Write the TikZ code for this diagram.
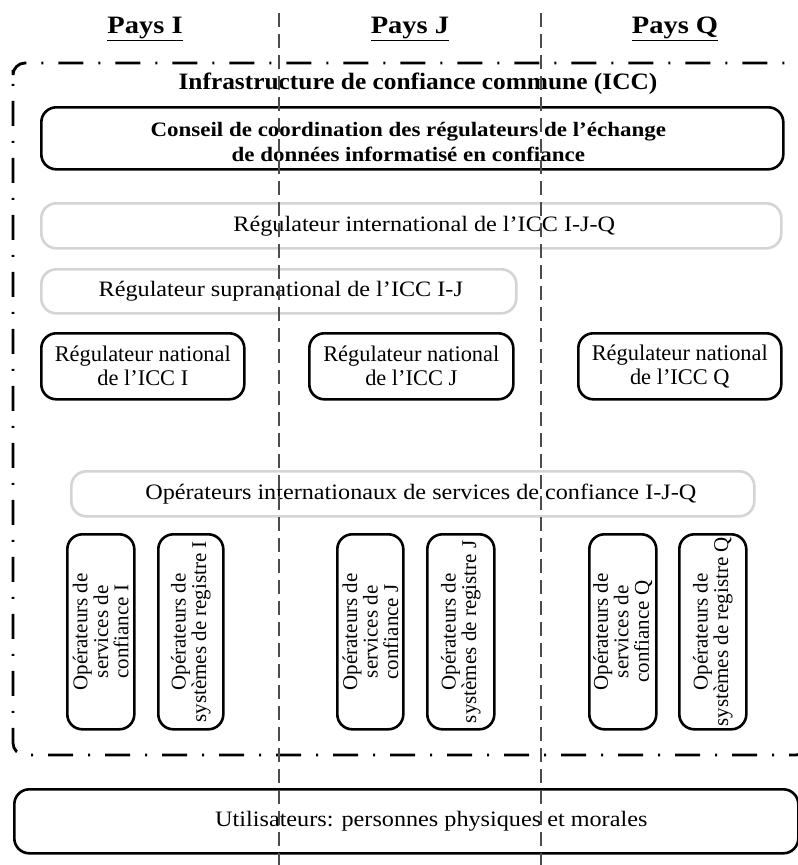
\documentclass[tikz,border=0pt]{standalone}
\usepackage{fontspec}
\setmainfont{Liberation Serif}
\newfontfamily\bw[FakeStretch=1.08]{Liberation Serif}
\newfontfamily\bwc[FakeStretch=1.12]{Liberation Serif}
\newfontfamily\bwp[FakeStretch=1.14]{Liberation Serif}
\newfontfamily\sw[FakeStretch=1.1]{Liberation Serif}
\begin{document}
\begin{tikzpicture}[x=1pt,y=-1pt,
  blk/.style={draw=black, line width=2.6pt, rounded corners=15pt, inner sep=0pt, anchor=north west},
  gry/.style={draw=black!17, line width=2.6pt, rounded corners=15pt, inner sep=0pt, anchor=north west},
  rtxt/.style={font=\fontsize{22.4}{24}\selectfont, align=center},
  stxt/.style={font=\sw\fontsize{22}{24}\selectfont, align=center},
  vtxt/.style={font=\fontsize{21}{20.5}\selectfont, align=center, rotate=90},
  btxt/.style={font=\bwc\bfseries\fontsize{20.5}{25}\selectfont, align=center},
  ttl/.style={font=\bw\bfseries\fontsize{23.5}{26}\selectfont},
  pays/.style={font=\bwp\bfseries\fontsize{25}{28}\selectfont},
  frame/.style={line width=2.8pt, rounded corners=12pt, dash pattern=on 25pt off 15pt on 2pt off 15pt},
  vline/.style={draw=black!70, line width=1.2pt, dash pattern=on 14pt off 7pt}]
\useasboundingbox (0,0) rectangle (798,865);

% country titles
\node[pays] (pI) at (145,29) {\underline{Pays I}};
\node[pays] (pJ) at (410,29) {\underline{Pays J}};
\node[pays] (pQ) at (675,29) {\underline{Pays Q}};

% frame
\draw[frame] (13,82) -- (13,63) -- (808,63) -- (808,755) -- (13,755) -- cycle;
\node[ttl] (icc) at (418,84) {Infrastructure de confiance commune (ICC)};

% boxes
\node[blk, minimum width=742pt, minimum height=62pt,
  label={[btxt, xshift=-4pt, yshift=-4pt]center:Conseil de coordination des régulateurs de l’échange\\de données informatisé en confiance}] (conseil) at (40,106) {};
\node[gry, minimum width=740pt, minimum height=45pt,
  label={[stxt, xshift=13pt]center:Régulateur international de l’ICC I-J-Q}] (rint) at (40,202) {};
\node[gry, minimum width=475pt, minimum height=44pt,
  label={[stxt, xshift=2pt]center:Régulateur supranational de l’ICC I-J}] (rsup) at (40,268) {};

\node[blk, minimum width=203pt, minimum height=66pt, rtxt] (nI) at (40,332) {Régulateur national\\de l’ICC I};
\node[blk, minimum width=204pt, minimum height=66pt, rtxt] (nJ) at (308,332) {Régulateur national\\de l’ICC J};
\node[blk, minimum width=203pt, minimum height=66pt, rtxt] (nQ) at (577,332) {Régulateur national\\de l’ICC Q};

\node[gry, minimum width=683pt, minimum height=45pt,
  label={[stxt, xshift=8pt]center:Opérateurs internationaux de services de confiance I-J-Q}] (oint) at (70,470) {};

\node[blk, minimum width=67pt, minimum height=195pt,
  label={[vtxt]center:Opérateurs de\\services de\\confiance I}] (sI) at (66,533) {};
\node[blk, minimum width=65pt, minimum height=195pt,
  label={[vtxt]center:Opérateurs de\\systèmes de registre I}] (gI) at (157,533) {};
\node[blk, minimum width=66pt, minimum height=195pt,
  label={[vtxt]center:Opérateurs de\\services de\\confiance J}] (sJ) at (336,533) {};
\node[blk, minimum width=67pt, minimum height=195pt,
  label={[vtxt]center:Opérateurs de\\systèmes de registre J}] (gJ) at (426,533) {};
\node[blk, minimum width=67pt, minimum height=195pt,
  label={[vtxt]center:Opérateurs de\\services de\\confiance Q}] (sQ) at (588,533) {};
\node[blk, minimum width=67pt, minimum height=195pt,
  label={[vtxt]center:Opérateurs de\\systèmes de registre Q}] (gQ) at (678,533) {};

\node[blk, minimum width=784pt, minimum height=64pt,
  label={[stxt, xshift=25pt]center:Utilisateurs: personnes physiques et morales}] (util) at (13,788) {};

% country separators
\coordinate (l1t) at (279,13); \coordinate (l1b) at (279,865);
\coordinate (l2t) at (541,13); \coordinate (l2b) at (541,865);
\draw[vline] (l1t) -- (l1b);
\draw[vline] (l2t) -- (l2b);
\end{tikzpicture}
\end{document}
